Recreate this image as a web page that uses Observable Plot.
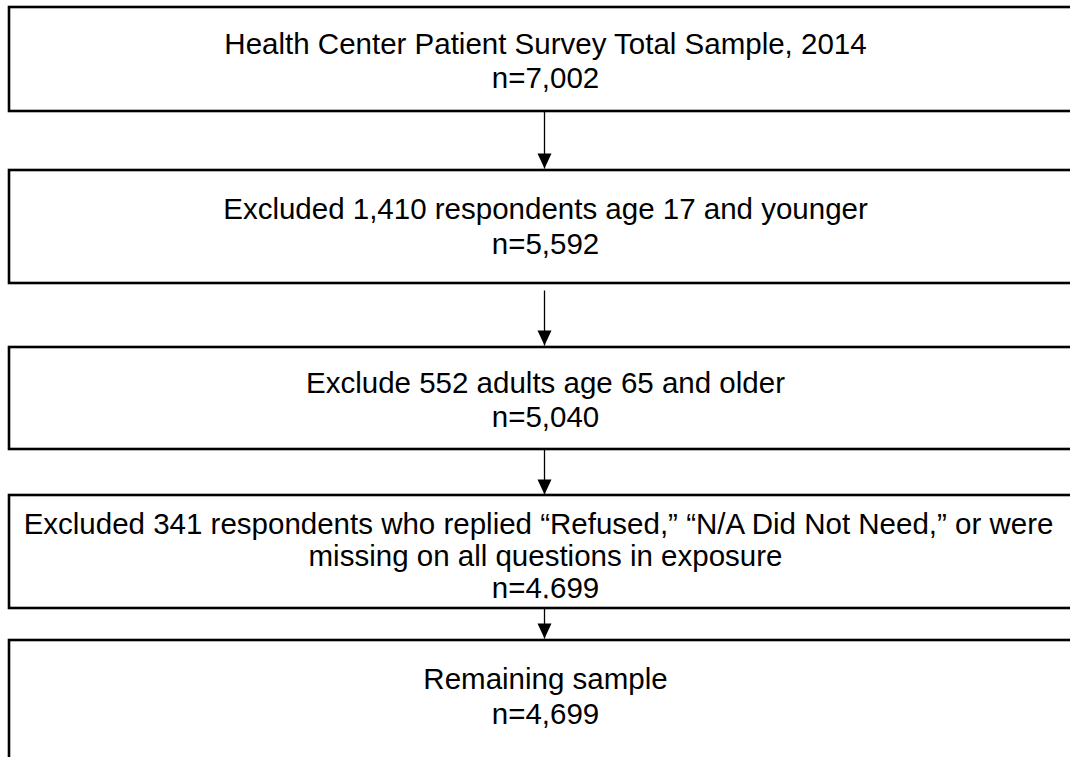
<!DOCTYPE html>
<html>
<head>
<meta charset="utf-8">
<script src="https://cdn.jsdelivr.net/npm/d3@7"></script>
<script src="https://cdn.jsdelivr.net/npm/@observablehq/plot@0.6"></script>
<style>
  html, body { margin: 0; padding: 0; background: #fff; }
  #chart svg { display: block; overflow: hidden; }
</style>
</head>
<body>
<div id="chart"></div>
<script>
// ---- Data ----
const stepLabels = [
  ["Health Center Patient Survey Total Sample, 2014"],
  ["Excluded 1,410 respondents age 17 and younger"],
  ["Exclude 552 adults age 65 and older"],
  ["Excluded 341 respondents who replied \u201cRefused,\u201d \u201cN/A Did Not Need,\u201d or were", "missing on all questions in exposure"],
  ["Remaining sample"]
];
const stepN = [7002, 5592, 5040, 4699, 4699];

// ---- Layout (diagram geometry, not data) ----
const W = 1070, H = 757;
const FONT = 29.5;
const boxLeft = 9, boxRight = 1085;
const boxTop = [7, 170, 347, 495, 640];
const boxBottom = [111, 283, 449, 608, 790];
const firstBaseline = [53, 218, 392, 533, 688];
const lineStep = [34.5, 35, 34.5, 32, 35];
const firstLineShift = [0, 0, 0, -7, 0];
const textClipBottom = [null, null, null, 598, null];
const arrowX = 544;
const arrowFrom = [111, 290, 449, 608];
const arrowTip = [168, 345, 494, 638];

const fmt = d3.format(",");

const boxes = stepLabels.map((lab, i) => ({i, top: boxTop[i], bottom: boxBottom[i]}));
const lines = [];
stepLabels.forEach((lab, i) => {
  const all = [...lab, "n=" + fmt(stepN[i])];
  all.forEach((t, j) => lines.push({
    box: i, text: t,
    baseline: firstBaseline[i] + j * lineStep[i],
    shift: j === 0 ? firstLineShift[i] : 0
  }));
});
const arrows = arrowFrom.map((f, i) => ({from: f, tip: arrowTip[i]}));

const downTriangle = {
  draw(context) {
    context.moveTo(-7, -15);
    context.lineTo(7, -15);
    context.lineTo(0, 0);
    context.closePath();
  }
};

const svg = Plot.plot({
  width: W,
  height: H,
  margin: 0,
  style: {fontFamily: "'Liberation Sans', Arial, sans-serif", background: "white"},
  x: {domain: [0, W], range: [0, W], axis: null},
  y: {domain: [0, H], range: [0, H], axis: null},
  marks: [
    Plot.rect(boxes, {
      x1: () => boxLeft, x2: () => boxRight,
      y1: "top", y2: "bottom",
      fill: "white", stroke: "black", strokeWidth: 2.6
    }),
    Plot.link(arrows, {
      x1: () => arrowX, x2: () => arrowX,
      y1: "from", y2: "tip",
      stroke: "black", strokeWidth: 1.3
    }),
    Plot.dot(arrows, {
      x: () => arrowX, y: "tip",
      symbol: downTriangle, r: 8,
      fill: "black", stroke: "none"
    }),
    Plot.text(lines, {
      x: d => (boxLeft + boxRight) / 2 - 2 + d.shift,
      y: d => d.baseline - 0.32 * FONT,
      text: "text",
      fontSize: FONT,
      fill: "black",
      textAnchor: "middle"
    })
  ]
});

// clip text that overflows its box's text frame (as in the reference)
const sel = d3.select(svg);
const defs = sel.insert("defs", ":first-child");
textClipBottom.forEach((c, i) => {
  if (c == null) return;
  defs.append("clipPath").attr("id", "clip-box-" + i)
    .attr("clipPathUnits", "userSpaceOnUse")
    .append("rect").attr("x", -50).attr("y", boxTop[i]).attr("width", W + 100).attr("height", c - boxTop[i]);
});
const textNodes = sel.selectAll("text").nodes();
textNodes.forEach((node, k) => {
  const line = lines[k];
  if (line && textClipBottom[line.box] != null) {
    const parent = node.parentNode;
    const g = document.createElementNS("http://www.w3.org/2000/svg", "g");
    g.setAttribute("clip-path", `url(#clip-box-${line.box})`);
    parent.insertBefore(g, node);
    g.appendChild(node);
  }
});

document.getElementById("chart").appendChild(svg);
</script>
</body>
</html>
